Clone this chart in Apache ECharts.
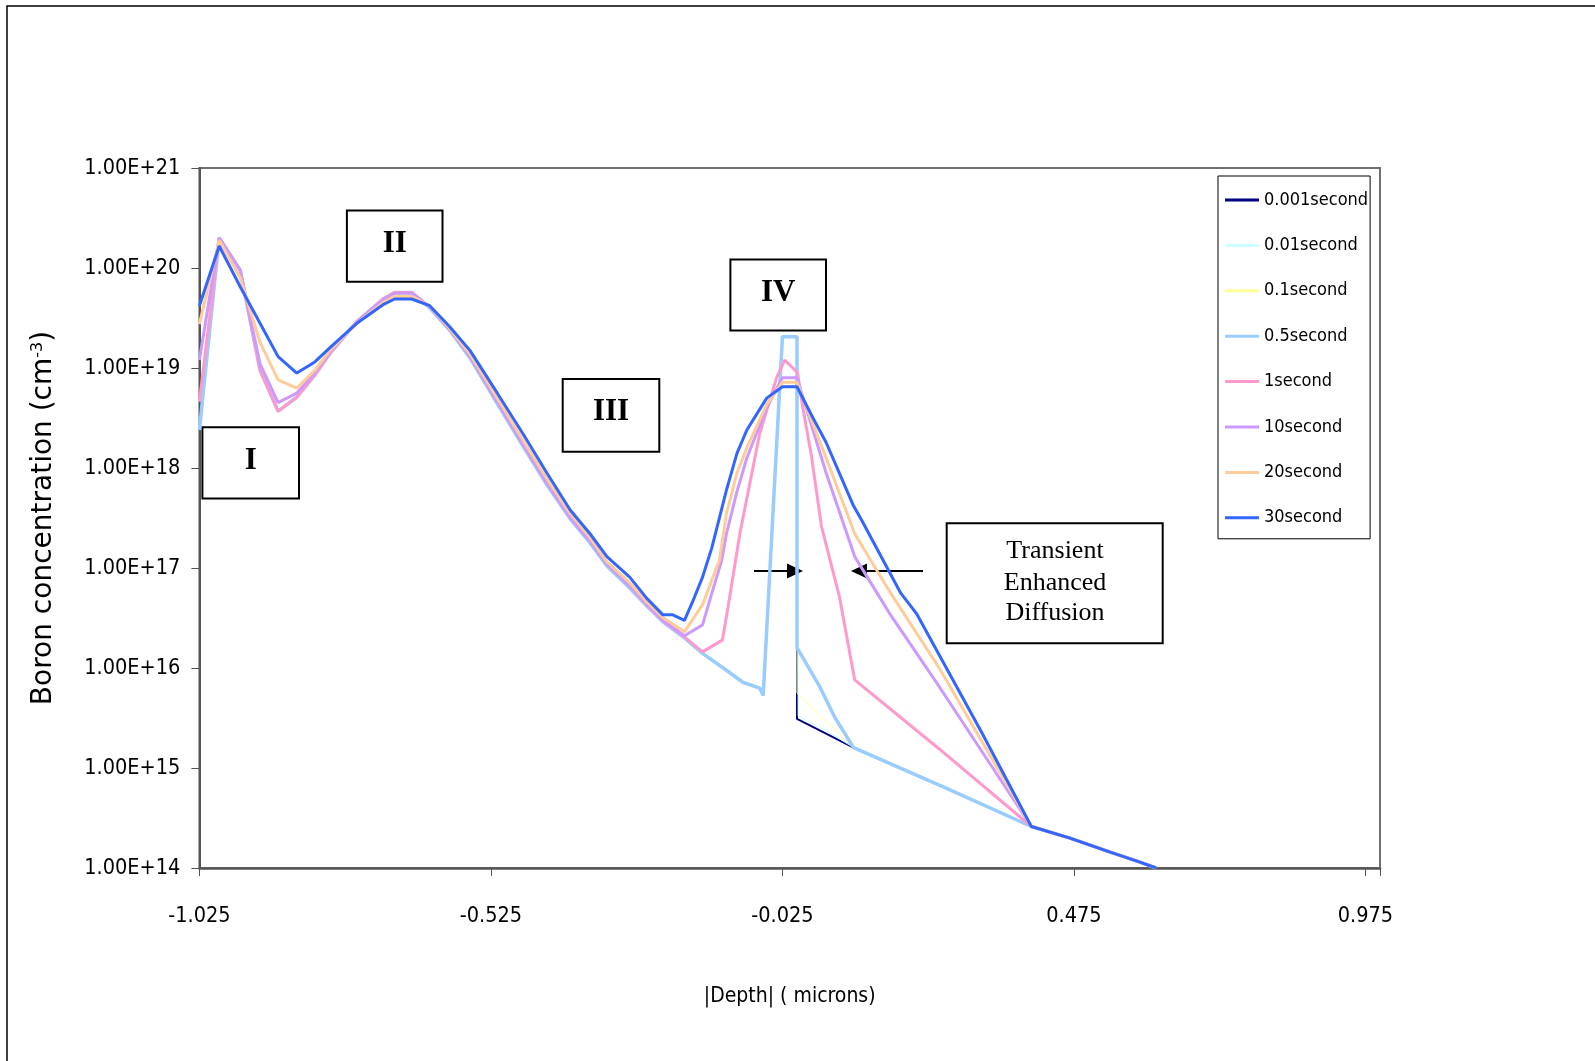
<!DOCTYPE html>
<html>
<head>
<meta charset="utf-8">
<title>Boron concentration</title>
<script src="https://cdn.jsdelivr.net/npm/echarts@6/dist/echarts.min.js"></script>
<style>
  html, body { margin: 0; padding: 0; background: #fff; }
  #chart { width: 1595px; height: 1061px; }
</style>
</head>
<body>
<div id="chart"></div>
<script>
// ---- data: [|depth| (microns), boron concentration (cm^-3)] ----
var seriesNames = ['0.001second', '0.01second', '0.1second', '0.5second', '1second', '10second', '20second', '30second'];
var seriesColors = ['#000080', '#CCFFFF', '#FFFF99', '#99CCFF', '#FF99CC', '#CC99FF', '#FFCC99', '#3366FF'];
var seriesWidths = [2, 1, 1, 3.5, 3, 3, 3, 3];

// left part shared by the early profiles (0.001s - 0.5s)
var earlyLeft = [[-1.025, 2.4e18], [-0.991, 2.0e20], [-0.955, 9.5e19], [-0.921, 9.5e18], [-0.890, 3.7e18],
  [-0.858, 5.1e18], [-0.827, 8.5e18], [-0.801, 1.4e19], [-0.755, 2.9e19], [-0.710, 4.9e19], [-0.690, 5.7e19],
  [-0.661, 5.7e19], [-0.630, 4.0e19], [-0.596, 2.4e19], [-0.561, 1.26e19], [-0.514, 4.4e18], [-0.470, 1.66e18],
  [-0.429, 6.8e17], [-0.389, 3.1e17], [-0.355, 1.78e17], [-0.326, 1.05e17], [-0.287, 6.3e16], [-0.258, 4.2e16],
  [-0.230, 2.9e16], [-0.193, 2.0e16], [-0.162, 1.4e16], [-0.121, 9.5e15], [-0.093, 7.2e15], [-0.064, 6.3e15],
  [-0.058, 5.3e15]];
// implanted box (region IV)
var implantBox = [[-0.025, 2.05e19], [0.0, 2.05e19]];
// deep tail shared by all profiles
var deepTail = [[0.402, 2.6e14], [0.467, 2.0e14], [0.536, 1.45e14], [0.587, 1.15e14], [0.616, 1.0e14]];

var s0001Right = [[0.0, 3.1e15], [0.044, 2.3e15], [0.097, 1.6e15], [0.250, 6.5e14]];
var s001Right = [[0.002, 3.3e15], [0.046, 2.45e15], [0.097, 1.6e15], [0.250, 6.5e14]];
var s01Right = [[0.0, 5.6e15], [0.097, 1.6e15], [0.250, 6.5e14]];
var s05Right = [[0.0, 1.6e16], [0.039, 6.5e15], [0.065, 3.2e15], [0.097, 1.6e15], [0.250, 6.5e14]];

var s1 = [[-1.025, 4.6e18], [-0.991, 2.0e20], [-0.955, 9.5e19], [-0.921, 9.5e18], [-0.890, 3.7e18],
  [-0.858, 5.1e18], [-0.827, 8.5e18], [-0.801, 1.4e19], [-0.755, 2.9e19], [-0.710, 4.9e19], [-0.690, 5.7e19],
  [-0.661, 5.7e19], [-0.630, 4.1e19], [-0.596, 2.45e19], [-0.561, 1.32e19], [-0.514, 4.6e18], [-0.470, 1.74e18],
  [-0.429, 7.1e17], [-0.389, 3.2e17], [-0.355, 1.86e17], [-0.326, 1.1e17], [-0.287, 6.6e16], [-0.258, 4.3e16],
  [-0.230, 2.95e16], [-0.193, 2.05e16], [-0.162, 1.45e16], [-0.128, 1.9e16], [-0.119, 3.8e16], [-0.098, 2.2e17],
  [-0.064, 2.2e18], [-0.035, 8.0e18], [-0.021, 1.2e19], [-0.007, 1.0e19], [0.001, 8.9e18], [0.010, 4.0e18],
  [0.025, 1.3e18], [0.042, 2.6e17], [0.073, 5.1e16], [0.099, 7.6e15], [0.244, 1.55e15]];

var s10 = [[-1.025, 1.2e19], [-0.991, 2.0e20], [-0.955, 9.5e19], [-0.921, 1.1e19], [-0.890, 4.5e18],
  [-0.858, 5.6e18], [-0.827, 9.0e18], [-0.801, 1.45e19], [-0.755, 2.9e19], [-0.710, 4.8e19], [-0.690, 5.6e19],
  [-0.661, 5.6e19], [-0.630, 4.1e19], [-0.596, 2.45e19], [-0.561, 1.32e19], [-0.514, 4.6e18], [-0.470, 1.74e18],
  [-0.429, 7.1e17], [-0.389, 3.2e17], [-0.355, 1.86e17], [-0.326, 1.1e17], [-0.287, 6.6e16], [-0.258, 4.4e16],
  [-0.230, 3.0e16], [-0.193, 2.1e16], [-0.162, 2.7e16], [-0.146, 5.6e16], [-0.129, 1.2e17], [-0.121, 2.2e17],
  [-0.103, 5.8e17], [-0.086, 1.26e18], [-0.052, 4.0e18], [-0.025, 8.0e18], [0.0, 8.0e18], [0.05, 8.9e17],
  [0.099, 1.3e17], [0.159, 3.5e16], [0.244, 6.5e15]];

var s20 = [[-1.025, 2.75e19], [-0.991, 1.9e20], [-0.955, 8.0e19], [-0.921, 1.8e19], [-0.890, 7.6e18],
  [-0.858, 6.3e18], [-0.827, 9.5e18], [-0.801, 1.5e19], [-0.755, 2.8e19], [-0.710, 4.5e19], [-0.690, 5.2e19],
  [-0.661, 5.2e19], [-0.630, 4.2e19], [-0.596, 2.5e19], [-0.561, 1.38e19], [-0.514, 5.0e18], [-0.470, 1.9e18],
  [-0.429, 7.8e17], [-0.389, 3.5e17], [-0.355, 2.0e17], [-0.326, 1.15e17], [-0.287, 7.1e16], [-0.258, 4.6e16],
  [-0.230, 3.2e16], [-0.193, 2.3e16], [-0.162, 4.3e16], [-0.146, 7.6e16], [-0.133, 1.2e17], [-0.121, 3.5e17],
  [-0.103, 8.9e17], [-0.086, 1.6e18], [-0.052, 4.3e18], [-0.025, 7.2e18], [0.0, 7.2e18], [0.05, 1.26e18],
  [0.099, 2.2e17], [0.159, 5.8e16], [0.244, 1.0e16]];

var s30 = [[-1.025, 4.2e19], [-0.991, 1.66e20], [-0.955, 6.5e19], [-0.921, 2.8e19], [-0.890, 1.3e19],
  [-0.858, 8.9e18], [-0.827, 1.15e19], [-0.801, 1.6e19], [-0.755, 2.8e19], [-0.710, 4.3e19], [-0.690, 4.9e19],
  [-0.661, 4.9e19], [-0.630, 4.2e19], [-0.596, 2.6e19], [-0.561, 1.5e19], [-0.514, 5.6e18], [-0.470, 2.2e18],
  [-0.429, 8.9e17], [-0.389, 3.8e17], [-0.355, 2.2e17], [-0.326, 1.3e17], [-0.287, 8.1e16], [-0.258, 5.0e16],
  [-0.230, 3.4e16], [-0.213, 3.4e16], [-0.193, 3.0e16], [-0.179, 4.6e16], [-0.162, 8.1e16], [-0.146, 1.6e17],
  [-0.121, 6.0e17], [-0.103, 1.4e18], [-0.086, 2.4e18], [-0.052, 5.0e18], [-0.025, 6.5e18], [0.0, 6.5e18],
  [0.027, 3.2e18], [0.05, 1.8e18], [0.096, 4.3e17], [0.111, 3.0e17], [0.178, 5.6e16], [0.205, 3.5e16],
  [0.318, 2.2e15]];

var seriesData = [
  earlyLeft.concat(implantBox, s0001Right, deepTail),
  earlyLeft.concat(implantBox, s001Right, deepTail),
  earlyLeft.concat(implantBox, s01Right, deepTail),
  earlyLeft.concat(implantBox, s05Right, deepTail),
  s1.concat(deepTail),
  s10.concat(deepTail),
  s20.concat(deepTail),
  s30.concat(deepTail)
];

var xTicks = [-1.025, -0.525, -0.025, 0.475, 0.975];

var labelFont = "'DejaVu Sans Condensed', 'Liberation Sans Narrow', 'Liberation Sans', sans-serif";
var serifFont = "'Liberation Serif', 'DejaVu Serif', serif";

var chart = echarts.init(document.getElementById('chart'));

var series = [];
for (var k = 0; k < seriesNames.length; k++) {
  series.push({
    name: seriesNames[k],
    type: 'line',
    data: seriesData[k],
    symbol: 'none',
    lineStyle: { color: seriesColors[k], width: seriesWidths[k] },
    itemStyle: { color: seriesColors[k] },
    z: 2
  });
}

// text boxes for the regions
function box(x, y, w, h, label, ty) {
  return {
    type: 'group',
    z: 10,
    children: [
      { type: 'rect', shape: { x: x, y: y, width: w, height: h },
        style: { fill: '#fff', stroke: '#000', lineWidth: 2 } },
      { type: 'text', x: x + w / 2, y: ty,
        style: { text: label, font: 'bold 31px ' + serifFont, fill: '#000', align: 'center', verticalAlign: 'middle' } }
    ]
  };
}

function arrow(x1, x2, y) {
  var dir = x2 > x1 ? 1 : -1;
  return {
    type: 'group',
    z: 10,
    children: [
      { type: 'line', shape: { x1: x1, y1: y, x2: x2 - dir * 14, y2: y }, style: { stroke: '#000', lineWidth: 2 } },
      { type: 'polygon', shape: { points: [[x2, y], [x2 - dir * 16, y - 7.5], [x2 - dir * 16, y + 7.5]] },
        style: { fill: '#000' } }
    ]
  };
}

chart.setOption({
  animation: false,
  backgroundColor: '#fff',
  grid: {
    left: 199.4, right: 215, top: 168, bottom: 193,
    show: true, borderColor: '#707070', borderWidth: 2
  },
  legend: {
    orient: 'vertical',
    left: 1218, top: 176,
    padding: [14, 2, 11, 7],
    icon: 'rect',
    itemWidth: 34, itemHeight: 3, itemGap: 25.4,
    backgroundColor: '#fff',
    borderColor: '#000', borderWidth: 1,
    textStyle: { fontFamily: labelFont, fontSize: 18, lineHeight: 20, color: '#000' },
    data: seriesNames
  },
  xAxis: {
    type: 'value',
    min: -1.025, max: 1.0, interval: 0.5,
    name: '|Depth| ( microns)',
    nameLocation: 'middle', nameGap: 118,
    nameTextStyle: { fontFamily: labelFont, fontSize: 21, color: '#000' },
    axisLine: { onZero: false, lineStyle: { color: '#555', width: 2.5 } },
    axisTick: { length: 8, lineStyle: { color: '#555' } },
    axisLabel: {
      margin: 37, fontFamily: labelFont, fontSize: 21.5, color: '#000',
      formatter: function (v) {
        for (var i = 0; i < xTicks.length; i++) {
          if (Math.abs(v - xTicks[i]) < 1e-6) return xTicks[i].toFixed(3);
        }
        return '';
      }
    },
    splitLine: { show: false }
  },
  yAxis: {
    type: 'log', logBase: 10,
    min: 1e14, max: 1e21,
    name: '{t|Boron concentration (cm}{s|-3}{t|)}',
    nameLocation: 'middle', nameGap: 142, nameRotate: 90,
    nameTextStyle: {
      rich: {
        t: { fontFamily: 'DejaVu Sans, sans-serif', fontSize: 28, color: '#000' },
        s: { fontFamily: 'DejaVu Sans, sans-serif', fontSize: 16, color: '#000', verticalAlign: 'top', padding: [0, 0, 12, 0] }
      }
    },
    axisLine: { onZero: false, lineStyle: { color: '#555', width: 2 } },
    axisTick: { length: 8, lineStyle: { color: '#555' } },
    axisLabel: {
      margin: 19, fontFamily: labelFont, fontSize: 21.5, color: '#000',
      formatter: function (v) { return v.toExponential(2).toUpperCase(); }
    },
    splitLine: { show: false }
  },
  series: series,
  graphic: [
    { type: 'rect', z: 0, silent: true, shape: { x: 7, y: 6, width: 1620, height: 1100 },
      style: { fill: 'none', stroke: '#000', lineWidth: 1.5 } },
    box(202.4, 427.2, 96.6, 71.2, 'I', 460.5),
    box(346.9, 210.6, 95.6, 71.2, 'II', 244),
    box(562.7, 379, 96.6, 72.7, 'III', 412),
    box(730.4, 259.4, 95.6, 71.2, 'IV', 293),
    {
      type: 'group', z: 10,
      children: [
        { type: 'rect', shape: { x: 946.7, y: 523.3, width: 216, height: 120 },
          style: { fill: '#fff', stroke: '#000', lineWidth: 2 } },
        { type: 'text', x: 1055, y: 551.3,
          style: { text: 'Transient', font: '26px ' + serifFont, fill: '#000', align: 'center', verticalAlign: 'middle' } },
        { type: 'text', x: 1055, y: 582.8,
          style: { text: 'Enhanced', font: '26px ' + serifFont, fill: '#000', align: 'center', verticalAlign: 'middle' } },
        { type: 'text', x: 1055, y: 613.3,
          style: { text: 'Diffusion', font: '26px ' + serifFont, fill: '#000', align: 'center', verticalAlign: 'middle' } }
      ]
    },
    arrow(754, 803, 571),
    arrow(923, 851, 571)
  ]
});
</script>
</body>
</html>
